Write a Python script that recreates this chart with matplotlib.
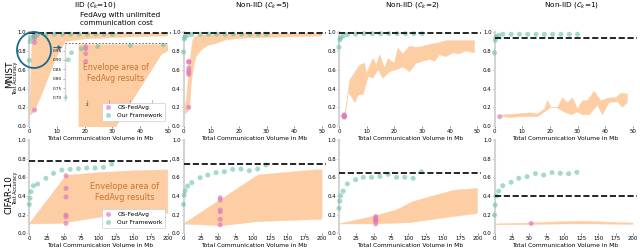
import numpy as np
import matplotlib
matplotlib.use('Agg')
import matplotlib.pyplot as plt
from matplotlib.patches import Ellipse, FancyArrowPatch
from matplotlib.lines import Line2D

# ---------------- data ----------------
titles = [r'IID ($\mathcal{C}_k$=10)', r'Non-IID ($\mathcal{C}_k$=5)',
          r'Non-IID ($\mathcal{C}_k$=2)', r'Non-IID ($\mathcal{C}_k$=1)']
row_names = ['MNIST', 'CIFAR-10']
xticks_mnist = [0, 10, 20, 30, 40, 50]
xticks_cifar = [0, 25, 50, 75, 100, 125, 150, 175, 200]

# communication volume of "Our Framework" points
comm_mnist = [0, 0.3, 0.6, 1.5, 3, 6, 9, 12, 15, 18, 21, 24, 27, 30]
comm_cifar = [0, 1, 2.5, 6, 12, 24, 35, 47, 59, 71, 83, 95, 107, 119]

ours_mnist = [
    [0.70, 0.90, 0.938, 0.959, 0.971, 0.976, 0.98, 0.98, 0.98, 0.98, 0.98, 0.98, 0.98, 0.98],
    [0.79, 0.93, 0.95, 0.97, 0.975, 0.98, 0.98, 0.98, 0.98, 0.98, 0.98, 0.98, 0.98, 0.98],
    [0.84, 0.92, 0.94, 0.96, 0.975, 0.98, 0.985, 0.985, 0.985, 0.985, 0.985, 0.985, 0.985, 0.985],
    [0.78, 0.915, 0.95, 0.968, 0.979, 0.979, 0.979, 0.979, 0.979, 0.979, 0.979, 0.979, 0.979, 0.979],
]
ours_cifar = [
    [0.31, 0.375, 0.446, 0.51, 0.528, 0.59, 0.643, 0.678, 0.686, 0.692, 0.70, 0.70, 0.707, 0.742],
    [0.31, 0.41, 0.457, 0.507, 0.543, 0.596, 0.625, 0.65, 0.66, 0.686, 0.689, 0.671, 0.689, 0.732],
    [0.268, 0.346, 0.403, 0.453, 0.53, 0.575, 0.60, 0.60, 0.61, 0.632, 0.60, 0.60, 0.59, 0.66],
    [0.196, 0.303, 0.40, 0.453, 0.51, 0.547, 0.59, 0.607, 0.64, 0.625, 0.65, 0.643, 0.639, 0.654],
]

os_comm_mnist = 1.9
os_comm_cifar = 53
os_mnist = [
    [0.971, 0.959, 0.933, 0.892, 0.17],
    [0.69, 0.68, 0.62, 0.59, 0.57, 0.55, 0.20],
    [0.12, 0.11, 0.105, 0.10, 0.095],
    [0.10],
]
os_cifar = [
    [0.617, 0.482, 0.389, 0.196, 0.178, 0.107],
    [0.38, 0.357, 0.25, 0.23, 0.15, 0.09],
    [0.18, 0.16, 0.15, 0.14, 0.13, 0.10],
    [0.105],
]

unlimited_mnist = [0.99, 0.99, 0.99, 0.936]
unlimited_cifar = [0.775, 0.739, 0.643, 0.403]

# FedAvg envelopes (upper and lower boundaries)
env_mnist = [
    dict(xu=[0, 0.5, 1, 1.5, 2, 4, 6, 8, 10, 13, 20, 35, 50],
         up=[0.11, 0.5, 0.9, 0.965, 0.97, 0.975, 0.98, 0.98, 0.98, 0.985, 0.985, 0.99, 0.99],
         xl=[0, 0.5, 1, 1.5, 2, 4, 6, 8, 10, 13, 20, 35, 50],
         lo=[0.11, 0.12, 0.13, 0.15, 0.17, 0.30, 0.45, 0.60, 0.75, 0.90, 0.93, 0.95, 0.96]),
    dict(xu=[0, 1, 2.2, 2.8, 3.4, 4, 4.6, 6.4, 8.8, 11.8, 15.4, 22.6, 35, 50],
         up=[0.11, 0.28, 0.63, 0.80, 0.92, 0.95, 0.96, 0.97, 0.975, 0.98, 0.98, 0.985, 0.985, 0.99],
         xl=[0, 1, 2.2, 2.8, 3.4, 4, 4.6, 6.4, 8.8, 11.8, 15.4, 22.6, 35, 50],
         lo=[0.11, 0.14, 0.18, 0.45, 0.58, 0.68, 0.74, 0.81, 0.86, 0.88, 0.92, 0.94, 0.95, 0.96]),
    dict(xu=[0, 1.6, 2.2, 3.9, 7.5, 9.3, 9.9, 12.3, 13.5, 14.7, 16.5, 17.7, 20, 21.3, 23.1,
             25.5, 27.9, 30.3, 32.7, 36.3, 38.7, 43.5, 49],
         up=[0.115, 0.115, 0.125, 0.49, 0.65, 0.67, 0.56, 0.72, 0.65, 0.76, 0.62, 0.72, 0.67, 0.83, 0.77,
             0.85, 0.84, 0.85, 0.87, 0.89, 0.91, 0.91, 0.91],
         xl=[0, 2.2, 3.4, 5.8, 7, 8.8, 10.6, 12.3, 14.1, 15.9, 18.3, 20.7, 23.1, 25.5, 27.9, 30.3,
             32.7, 34.5, 36.3, 38.7, 41.1, 43.5, 45.9, 49],
         lo=[0.10, 0.10, 0.36, 0.25, 0.33, 0.34, 0.53, 0.51, 0.60, 0.51, 0.58, 0.60, 0.63, 0.58,
             0.67, 0.69, 0.71, 0.69, 0.76, 0.74, 0.78, 0.77, 0.80, 0.78]),
    dict(xu=[2, 3, 6, 9, 12.6, 15.6, 18, 19.2, 20.4, 22.8, 24.6, 26.4, 28.2, 30, 31.8, 33.6,
             36, 38.4, 41.4, 43.8, 45.6, 48],
         up=[0.10, 0.117, 0.125, 0.13, 0.14, 0.13, 0.18, 0.27, 0.20, 0.20, 0.30, 0.25, 0.30, 0.18,
             0.27, 0.27, 0.37, 0.27, 0.30, 0.30, 0.35, 0.34],
         xl=[2, 3, 6, 9, 15.6, 18.6, 20.4, 22.2, 25.2, 27.6, 30, 31.8, 34.2, 37.2, 39, 41.4,
             44.4, 46.2, 48],
         lo=[0.10, 0.10, 0.09, 0.10, 0.10, 0.16, 0.20, 0.20, 0.15, 0.12, 0.15, 0.12, 0.12, 0.22,
             0.12, 0.25, 0.26, 0.20, 0.25]),
]
env_cifar = [
    dict(xu=[0, 53, 100, 150, 200], up=[0.10, 0.62, 0.65, 0.67, 0.68],
         xl=[0, 45, 100, 150, 185, 200], lo=[0.10, 0.105, 0.17, 0.23, 0.26, 0.21]),
    dict(xu=[0, 108, 191, 200], up=[0.10, 0.625, 0.68, 0.68],
         xl=[0, 54, 107, 200], lo=[0.10, 0.08, 0.125, 0.15]),
    dict(xu=[0, 54, 83, 107, 165, 198, 200], up=[0.10, 0.19, 0.25, 0.34, 0.46, 0.48, 0.48],
         xl=[0, 50, 102, 165, 198, 200], lo=[0.10, 0.10, 0.114, 0.18, 0.21, 0.22]),
    dict(xu=[0, 50, 100, 130, 160, 200], up=[0.10, 0.11, 0.125, 0.13, 0.12, 0.11],
         xl=[0, 50, 100, 150, 200], lo=[0.09, 0.095, 0.10, 0.10, 0.095]),
]

# inset (zoom of IID MNIST)
inset_env_x = [1.2, 3.5, 6.2, 8.8, 9.4]
inset_env_lo = [0.40, 0.44, 0.69, 0.93, 0.95]
inset_env_up = [0.985, 0.985, 0.985, 0.985, 0.985]
inset_xticks = [2, 4, 6, 8]
inset_yticks = [0.70, 0.75, 0.80, 0.85, 0.90, 0.95]

# ---------------- style ----------------
TEAL = '#66c2a5'
PINK = '#e07bb8'
ENV = '#fdcda4'
TXT = '#c8742c'
CIRC = '#1b6a8c'

W, H = 640, 248
fig = plt.figure(figsize=(6.4, 2.48), dpi=100)


def fx(px):
    return px / W


def fy(py):
    return 1 - py / H


lefts = [29.3, 183.5, 339, 494.5]
aw = 142
rows = [(32.3, 126.0), (140.0, 233.3)]


def style(ax, xticks, xmax):
    for s in ['top', 'right', 'bottom']:
        ax.spines[s].set_visible(False)
    ax.spines['left'].set_color('#d4d4d4')
    ax.spines['left'].set_linewidth(1.5)
    ax.tick_params(labelsize=3.9, length=1.2, width=0.5, pad=0.8, color='#666666')
    ax.set_ylim(0, 1.0)
    ax.set_yticks([0, 0.2, 0.4, 0.6, 0.8, 1.0])
    ax.set_xticks(xticks)
    ax.set_xlim(0, xmax)
    ax.set_xlabel('Total Communication Volume in Mb', fontsize=4.3, labelpad=1.6)


axes = {}
for r in range(2):
    ytop, ybot = rows[r]
    for c in range(4):
        ax = fig.add_axes([fx(lefts[c]), fy(ybot), aw / W, (ybot - ytop) / H])
        axes[(r, c)] = ax
        if r == 0:
            env, xs, ys, osv, osx, unl = env_mnist[c], comm_mnist, ours_mnist[c], os_mnist[c], os_comm_mnist, unlimited_mnist[c]
            style(ax, xticks_mnist, 51.3)
        else:
            env, xs, ys, osv, osx, unl = env_cifar[c], comm_cifar, ours_cifar[c], os_cifar[c], os_comm_cifar, unlimited_cifar[c]
            style(ax, xticks_cifar, 205)
        ax.fill(np.r_[env['xu'], env['xl'][::-1]], np.r_[env['up'], env['lo'][::-1]],
                color=ENV, lw=0.3, ec=ENV, zorder=1)
        ax.axhline(unl, color='black', ls='--', lw=1.2, zorder=4)
        ax.scatter([osx] * len(osv), osv, s=13, color=PINK, alpha=0.7, edgecolors='none',
                   zorder=3, clip_on=False)
        ax.scatter(xs, ys, s=13, color=TEAL, alpha=0.6, edgecolors='none', zorder=3,
                   clip_on=False)

# ---------------- inset ----------------
main = axes[(0, 0)]
axins = fig.add_axes([fx(65), fy(100), 102 / W, 57 / H])
axins.set_facecolor('white')
poly = axins.fill_between(inset_env_x, inset_env_lo, inset_env_up, color=ENV, lw=0, zorder=1)
poly.set_clip_path(main.patch)
axins.axhline(unlimited_mnist[0], color='#555555', ls=(0, (2, 2)), lw=0.6, zorder=4, clip_on=False)
axins.scatter([os_comm_mnist] * len(os_mnist[0]), os_mnist[0], s=12, color=PINK, alpha=0.7,
              edgecolors='none', zorder=3)
axins.scatter(comm_mnist, ours_mnist[0], s=12, color=TEAL, alpha=0.6, edgecolors='none', zorder=3)
axins.set_xlim(0, 9.35)
axins.set_ylim(0.686, 0.99)
axins.set_xticks(inset_xticks)
axins.set_yticks(inset_yticks)
axins.tick_params(labelsize=3.0, length=1.2, width=0.4, pad=0.8, color='#666666')
for s in ['top', 'right', 'bottom']:
    axins.spines[s].set_visible(False)
axins.spines['left'].set_color('#d4d4d4')
axins.spines['left'].set_linewidth(1.0)

# ---------------- legends ----------------
handles = [Line2D([], [], ls='none', marker='o', ms=3.5, mfc=PINK, mec='none', alpha=0.7),
           Line2D([], [], ls='none', marker='o', ms=3.5, mfc=TEAL, mec='none', alpha=0.6)]
labels = ['OS-FedAvg', 'Our Framework']
leg_kw = dict(fontsize=4.2, frameon=True, framealpha=1, edgecolor='#cccccc', fancybox=True,
              handletextpad=0.8, borderpad=0.45, labelspacing=0.5, handlelength=1.4,
              bbox_transform=fig.transFigure)
lg = axins.legend(handles, labels, loc='lower right',
                  bbox_to_anchor=(fx(168), fy(124)), **leg_kw)
lg.get_frame().set_linewidth(0.5)
lg2 = axes[(1, 0)].legend(handles, labels, loc='lower right',
                          bbox_to_anchor=(fx(168), fy(230.5)), **leg_kw)
lg2.get_frame().set_linewidth(0.5)

# ---------------- texts ----------------
title_x = [95, 263, 413, 572]
for c in range(4):
    fig.text(fx(title_x[c]), fy(4.5), titles[c], ha='center', va='center', fontsize=5.3)
fig.text(fx(80), fy(12), 'FedAvg with unlimited\ncommunication cost', ha='left', va='top',
         fontsize=5.2, linespacing=1.4)

fig.text(fx(116), fy(73), 'Envelope area of\nFedAvg results', ha='center', va='center',
         fontsize=5.6, color=TXT, linespacing=1.3, zorder=6)
fig.text(fx(125), fy(192), 'Envelope area of\nFedAvg results', ha='center', va='center',
         fontsize=5.9, color=TXT, linespacing=1.3, zorder=6)

fig.text(fx(9.5), fy(74), row_names[0], rotation=90, ha='center', va='center', fontsize=6.3)
fig.text(fx(15.8), fy(78), 'Test Accuracy', rotation=90, ha='center', va='center', fontsize=3.5)
fig.text(fx(9.5), fy(195), row_names[1], rotation=90, ha='center', va='center', fontsize=6.3)
fig.text(fx(15.8), fy(188), 'Test Accuracy', rotation=90, ha='center', va='center', fontsize=3.5)

# ---------------- highlight circle + arrow ----------------
ell = Ellipse((fx(34), fy(50)), 34 / W, 36 / H, transform=fig.transFigure, fill=False,
              edgecolor=CIRC, lw=1.3, zorder=7)
fig.add_artist(ell)
arr = FancyArrowPatch((fx(51), fy(47.5)), (fx(65), fy(47.5)), transform=fig.transFigure,
                      arrowstyle='-|>', mutation_scale=5, color=CIRC, lw=0.8,
                      linestyle=(0, (1.5, 1)), zorder=7)
fig.add_artist(arr)

fig.savefig('out.png', dpi=100)
